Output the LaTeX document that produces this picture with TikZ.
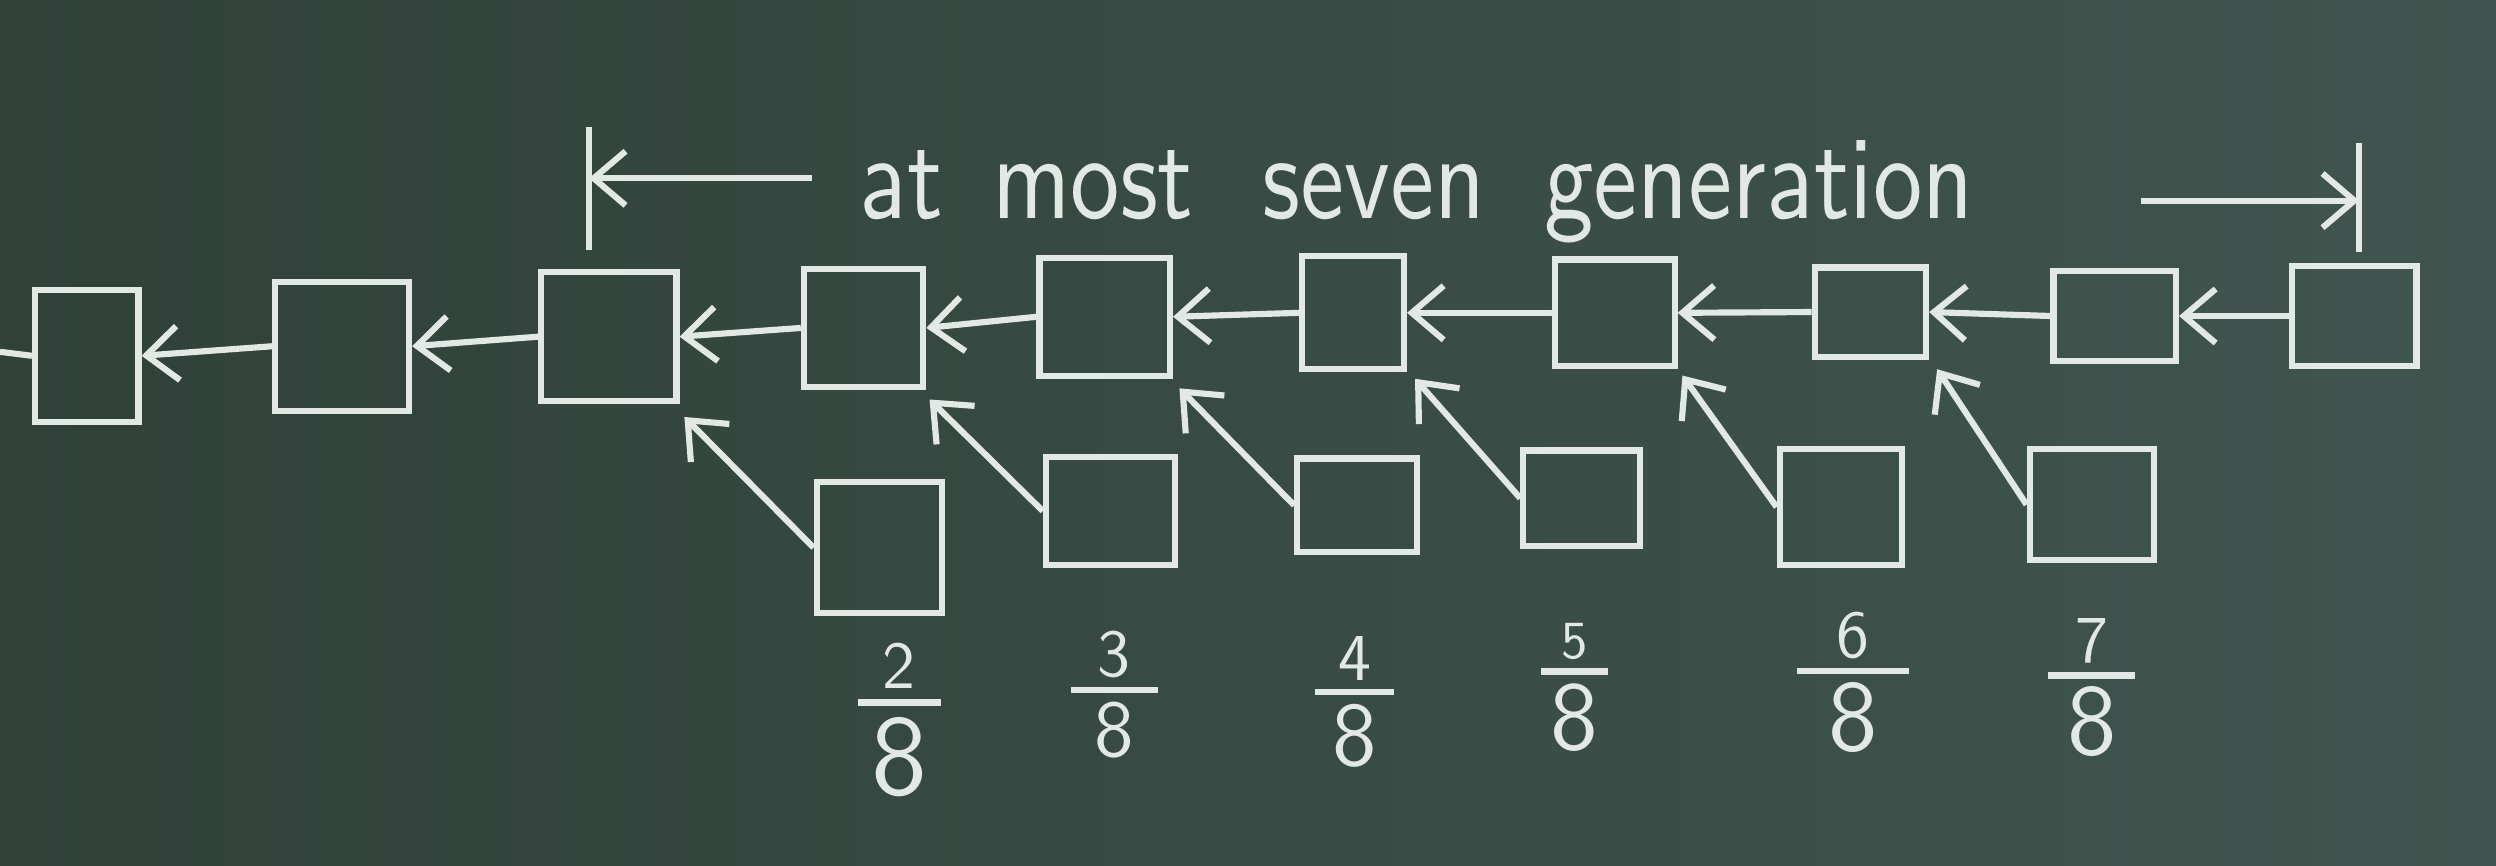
\documentclass[tikz,border=0pt]{standalone}
\usepackage{graphicx}
\usetikzlibrary{arrows.meta}
\definecolor{boardL}{HTML}{2F4139}
\definecolor{boardM}{HTML}{4B625B}
\definecolor{boardR}{HTML}{40554F}
\definecolor{chalk}{HTML}{E2E8E3}
\newcommand{\fracbar}[1]{\rule{#1}{1.2pt}}
\begin{document}
\begin{tikzpicture}[x=0.1mm,y=-0.1mm,
  blk/.style={draw=chalk, line width=1.1pt, inner sep=0pt},
  arr/.style={draw=chalk, line width=1.1pt, -{Straight Barb[length=2mm,width=3.4mm]}},
  ln/.style={draw=chalk, line width=1.1pt},
  txt/.style={text=chalk, inner sep=0pt, font=\sffamily},
  frac/.style={text=chalk, inner sep=0pt, font=\sffamily\fontsize{12}{14}\selectfont}]
\useasboundingbox (0,0) rectangle (1568,544);
\shade[left color=boardL, middle color=boardM, right color=boardR] (0,0) rectangle (1568,544);
% main chain
\node[blk, minimum width=6.5mm, minimum height=8.3mm] (m1) at (54.5,223.5) {};
\node[blk, minimum width=8.4mm, minimum height=8.1mm] (m2) at (215,217.5) {};
\node[blk, minimum width=8.5mm, minimum height=8.1mm] (m3) at (382.5,211.5) {};
\node[blk, minimum width=7.5mm, minimum height=7.4mm] (m4) at (542.5,206) {};
\node[blk, minimum width=8.2mm, minimum height=7.4mm] (m5) at (694,199) {};
\node[blk, minimum width=6.4mm, minimum height=7.1mm] (m6) at (850,196.5) {};
\node[blk, minimum width=7.5mm, minimum height=6.7mm] (m7) at (1014.5,196.5) {};
\node[blk, minimum width=7.0mm, minimum height=5.6mm] (m8) at (1175,196) {};
\node[blk, minimum width=7.7mm, minimum height=5.7mm] (m9) at (1328.5,198.5) {};
\node[blk, minimum width=7.8mm, minimum height=6.3mm] (m10) at (1479,198.5) {};
\coordinate (lft) at (0,221);
\draw[ln] (m1.west) -- (lft);
\draw[arr] (m2.west) -- (m1.east);
\draw[arr] (m3.west) -- (m2.east);
\draw[arr] (m4.west) -- (m3.east);
\draw[arr] (m5.west) -- (m4.east);
\draw[arr] (m6.west) -- (m5.east);
\draw[arr] (m7.west) -- (m6.east);
\draw[arr] (m8.west) -- (m7.east);
\draw[arr] (m9.west) -- (m8.east);
\draw[arr] (m10.west) -- (m9.east);
% uncle blocks
\node[blk, minimum width=7.9mm, minimum height=8.2mm] (u1) at (552.5,344) {};
\node[blk, minimum width=8.1mm, minimum height=6.8mm] (u2) at (697.5,321) {};
\node[blk, minimum width=7.5mm, minimum height=5.9mm] (u3) at (852.5,317.5) {};
\node[blk, minimum width=7.3mm, minimum height=6.0mm] (u4) at (993.5,313) {};
\node[blk, minimum width=7.7mm, minimum height=7.3mm] (u5) at (1156.5,318.5) {};
\node[blk, minimum width=7.8mm, minimum height=7.0mm] (u6) at (1314,317) {};
\draw[arr] (u1.west) -- ([xshift=0.3mm,yshift=-0.8mm]m3.south east);
\draw[arr] (u2.west) -- ([xshift=0.2mm,yshift=-0.6mm]m4.south east);
\draw[arr] (u3.west) -- ([xshift=0.4mm,yshift=-0.6mm]m5.south east);
\draw[arr] (u4.west) -- ([xshift=0.5mm,yshift=-0.4mm]m6.south east);
\draw[arr] (u5.west) -- ([xshift=0.3mm,yshift=-0.4mm]m7.south east);
\draw[arr] (u6.west) -- ([xshift=0.5mm,yshift=-0.6mm]m8.south east);
% fractions
\node[frac, anchor=north] (f1) at (565,403) {\shortstack{2\\[-1pt]\fracbar{5.2mm}\\[-1pt]\scalebox{1.7}{8}}};
\node[frac, anchor=north] (f2) at (700,396) {\shortstack{3\\[-1.5pt]\fracbar{5.5mm}\\[-1.5pt]\scalebox{1.2}{8}}};
\node[frac, anchor=north] (f3) at (851,399) {\shortstack{4\\[-1.5pt]\fracbar{5mm}\\[-1.5pt]\scalebox{1.35}{8}}};
\node[frac, anchor=north] (f4) at (989,391) {\shortstack{\scalebox{0.8}{5}\\[-1.5pt]\fracbar{4.2mm}\\[-1.5pt]\scalebox{1.45}{8}}};
\node[frac, anchor=north] (f5) at (1164,384) {\shortstack{6\\[-1.5pt]\fracbar{7mm}\\[-1.5pt]\scalebox{1.5}{8}}};
\node[frac, anchor=north] (f6) at (1314,388) {\shortstack{7\\[-1.5pt]\fracbar{5.5mm}\\[-1.5pt]\scalebox{1.5}{8}}};
% title with span arrows
\node[txt, anchor=base] (title) at (890,137) {\resizebox{70mm}{4.9mm}{at\hspace{0.5em}most\hspace{0.7em}seven\hspace{0.6em}generation}};
\coordinate (ltt) at (370,80);
\coordinate (ltb) at (370,157);
\coordinate (lt) at (370,112);
\coordinate (la) at (510,112);
\draw[ln] (ltt) -- (ltb);
\draw[arr] (la) -- (lt);
\coordinate (rtt) at (1482,90);
\coordinate (rtb) at (1482,158);
\coordinate (rt) at (1482,126);
\coordinate (ra) at (1345,126);
\draw[ln] (rtt) -- (rtb);
\draw[arr] (ra) -- (rt);
\end{tikzpicture}
\end{document}
